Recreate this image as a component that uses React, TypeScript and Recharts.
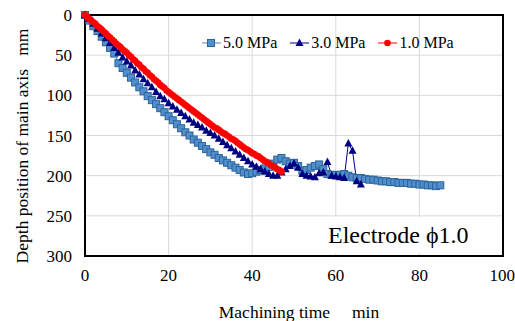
import React from "react";
import {
  CartesianGrid,
  Line,
  LineChart,
  ReferenceArea,
  XAxis,
  YAxis,
} from "recharts";

// 5.0 MPa, one reading per minute from 0 min
const depth50 = [
  0, 7, 14, 20, 27, 34, 41, 48, 60, 66, 72, 78, 84, 90, 95, 101, 106, 111, 116, 121,
  126, 131, 136, 141, 146, 150, 155, 159, 163, 167, 171, 174, 178, 181, 184, 187, 190, 193, 196, 198,
  197, 195, 193, 191, 189, 185, 180, 178, 182, 185, 184, 188, 194, 193, 190, 188, 186, 192, 198, 199,
  199, 199, 198, 200, 202, 203, 203, 204, 205, 205, 206, 207, 207, 208, 208, 209, 209, 209, 210, 210,
  211, 211, 212, 212, 213, 212,
];

// 3.0 MPa, one reading per minute from 0 min
const depth30 = [
  0, 5, 11, 17, 23, 29, 35, 41, 47, 53, 58, 63, 69, 74, 80, 85, 90, 96, 101, 105,
  110, 114, 118, 122, 126, 130, 134, 137, 140, 144, 147, 150, 154, 158, 162, 166, 170, 174, 178, 182,
  186, 189, 192, 195, 198, 200, 200, 196, 192, 188, 185, 190, 198, 200, 201, 202, 197, 196, 183, 200,
  201, 202, 203, 160, 169, 207, 211,
];

// 1.0 MPa, one reading every half minute from 0 min
const depth10 = [
  0, 2, 5, 7, 9, 11, 14, 16, 18, 21, 23, 26, 28, 31, 33, 36, 38, 40, 43, 45,
  47, 50, 52, 55, 57, 60, 62, 65, 67, 70, 72, 75, 77, 80, 82, 84, 87, 89, 91, 94,
  96, 98, 100, 102, 104, 106, 108, 110, 112, 114, 116, 118, 120, 122, 124, 126, 128, 130, 132, 134,
  136, 138, 140, 141, 143, 145, 147, 148, 150, 152, 154, 155, 157, 159, 161, 163, 165, 167, 168, 170,
  172, 173, 175, 176, 178, 180, 182, 183, 185, 187, 188, 190, 192, 193, 195,
];

const xTicks = [0, 20, 40, 60, 80, 100];
const yTicks = [0, 50, 100, 150, 200, 250, 300];
const seriesNames = ["5.0 MPa", "3.0 MPa", "1.0 MPa"];

const toPoints = (values: number[], step: number) =>
  values.map((y, i) => ({ t: i * step, y }));

const data50 = toPoints(depth50, 1);
const data30 = toPoints(depth30, 1);
const data10 = toPoints(depth10, 0.5);

const FONT = "'Liberation Serif', 'Times New Roman', Times, serif";
const BLUE_FILL = "#4f8fd0";
const BLUE_EDGE = "#2f6396";
const BLUE_LINE = "#4a86c6";
const NAVY = "#000080";
const RED = "#ff0000";

const squareDot = (props: any) => {
  const { cx, cy, index } = props;
  if (cx == null || cy == null) return <g key={`s${index}`} />;
  return (
    <rect
      key={`s${index}`}
      x={cx - 3.5}
      y={cy - 3.5}
      width={7}
      height={7}
      fill={BLUE_FILL}
      stroke={BLUE_EDGE}
      strokeWidth={1}
    />
  );
};

const triangleDot = (props: any) => {
  const { cx, cy, index } = props;
  if (cx == null || cy == null) return <g key={`t${index}`} />;
  return (
    <polygon
      key={`t${index}`}
      points={`${cx},${cy - 4.5} ${cx - 4},${cy + 3} ${cx + 4},${cy + 3}`}
      fill={NAVY}
    />
  );
};

const circleDot = (props: any) => {
  const { cx, cy, index } = props;
  if (cx == null || cy == null) return <g key={`c${index}`} />;
  return <circle key={`c${index}`} cx={cx} cy={cy} r={3.3} fill={RED} />;
};

const LegendIcon = ({ kind }: { kind: number }) => (
  <svg width={19} height={12} style={{ display: "block" }}>
    <line x1={0} y1={6} x2={19} y2={6} stroke={[BLUE_LINE, NAVY, RED][kind]} strokeWidth={1} />
    {kind === 0 && (
      <rect x={5.5} y={2.5} width={7} height={7} fill={BLUE_FILL} stroke={BLUE_EDGE} />
    )}
    {kind === 1 && <polygon points="9.5,1.5 5.5,9 13.5,9" fill={NAVY} />}
    {kind === 2 && <circle cx={9.5} cy={6} r={3.3} fill={RED} />}
  </svg>
);

const ChartLegend = () => (
  <div
    style={{
      position: "absolute",
      left: 202,
      top: 34,
      display: "flex",
      alignItems: "center",
      fontFamily: FONT,
      fontSize: 16,
      lineHeight: "18px",
    }}
  >
    {seriesNames.map((name, i) => (
      <div key={name} style={{ display: "flex", alignItems: "center", marginRight: 13 }}>
        <LegendIcon kind={i} />
        <span style={{ marginLeft: 2, whiteSpace: "pre" }}>{name}</span>
      </div>
    ))}
  </div>
);

export default function App() {
  return (
    <div style={{ position: "absolute", left: 0, top: 0, width: 515, height: 321, background: "#fff" }}>
      <LineChart
        width={515}
        height={321}
        margin={{ top: 15, right: 12, bottom: 0, left: 0 }}
        style={{ fontFamily: FONT }}
      >
        <CartesianGrid stroke="#d9d9d9" strokeWidth={1} />
        <XAxis
          type="number"
          dataKey="t"
          domain={[0, 100]}
          ticks={xTicks}
          allowDuplicatedCategory={false}
          height={65}
          tickLine={false}
          axisLine={false}
          tickSize={6}
          tickMargin={7}
          tick={{ fill: "#000", fontSize: 17, fontFamily: FONT }}
          label={{
            content: () => (
              <text x={299} y={318} textAnchor="middle" fontFamily={FONT} fontSize={17.5} fill="#000" style={{ whiteSpace: "pre" }}>
                {"Machining time     min"}
              </text>
            ),
          }}
        />
        <YAxis
          type="number"
          reversed
          domain={[0, 300]}
          ticks={yTicks}
          width={85}
          tickLine={false}
          axisLine={false}
          tickSize={6}
          tickMargin={7}
          tick={{ fill: "#000", fontSize: 17, fontFamily: FONT }}
          label={{
            content: () => (
              <text
                x={0}
                y={0}
                transform="translate(28,146) rotate(-90)"
                textAnchor="middle"
                fontFamily={FONT}
                fontSize={17.5}
                fill="#000"
                style={{ whiteSpace: "pre" }}
              >
                {"Depth position of main axis   mm"}
              </text>
            ),
          }}
        />
        <Line
          data={data50}
          dataKey="y"
          name={seriesNames[0]}
          stroke={BLUE_LINE}
          strokeWidth={1}
          dot={squareDot}
          activeDot={false}
          isAnimationActive={false}
        />
        <Line
          data={data30}
          dataKey="y"
          name={seriesNames[1]}
          stroke={NAVY}
          strokeWidth={1}
          dot={triangleDot}
          activeDot={false}
          isAnimationActive={false}
        />
        <Line
          data={data10}
          dataKey="y"
          name={seriesNames[2]}
          stroke={RED}
          strokeWidth={1}
          dot={circleDot}
          activeDot={false}
          isAnimationActive={false}
        />
        <ReferenceArea
          x1={0}
          x2={100}
          y1={0}
          y2={300}
          fill="none"
          fillOpacity={0}
          stroke="#000"
          strokeWidth={2}
          ifOverflow="visible"
        />
      </LineChart>
      <ChartLegend />
      <div
        style={{
          position: "absolute",
          left: 325,
          top: 217,
          width: 175,
          height: 36,
          background: "#fff",
          fontFamily: FONT,
          fontSize: 24,
          lineHeight: "36px",
          paddingLeft: 3,
          boxSizing: "border-box",
          whiteSpace: "nowrap",
        }}
      >
        Electrode ϕ1.0
      </div>
    </div>
  );
}
